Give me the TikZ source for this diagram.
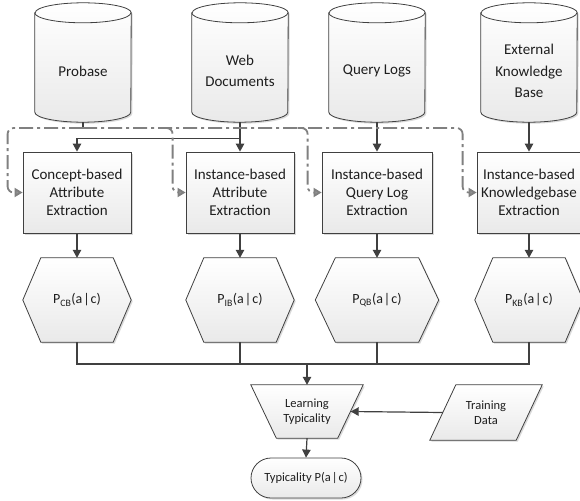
\documentclass[tikz,border=0pt]{standalone}
\usepackage{fontspec}
\setmainfont{Carlito}
\usetikzlibrary{arrows.meta,calc,shadows,shapes.misc,backgrounds}
\definecolor{lc}{HTML}{404040}
\definecolor{dc}{HTML}{808080}
\definecolor{tc}{HTML}{1E1E1E}
\newcommand\fs[2]{\fontsize{#1pt}{#2pt}\selectfont}
\tikzset{
  shp/.style={draw=lc, line width=0.8pt, top color=white, bottom color=gray!17,
    drop shadow={shadow xshift=1.5pt, shadow yshift=-1.5pt, fill=black, opacity=0.15}},
  cylnode/.style={minimum width=96pt, minimum height=102pt, inner sep=0pt, align=center,
    font=\fs{15}{21.5}, text=tc},
  procbox/.style={shp, rectangle, minimum height=81pt, inner sep=2pt, align=center,
    font=\fs{15}{18}, text=tc},
  hexnode/.style={minimum height=84pt, inner sep=0pt, align=center, font=\fs{14}{17}, text=tc},
  smallnode/.style={inner sep=0pt, align=center, font=\fs{12.5}{15.5}, text=tc},
  conn/.style={draw=lc, line width=1.2pt},
  arr/.style={conn, -{Triangle[length=8pt,width=8.5pt]}},
  dd/.style={draw=dc, line width=1.8pt, rounded corners=6pt,
    dash pattern=on 14pt off 4pt on 3pt off 4pt,
    -{Triangle[length=8pt,width=9pt,fill=dc!85]}},
}
\newcommand\cyldraw[1]{%
  \path[shp] ([yshift=7pt]#1.north west) -- ([yshift=10pt]#1.south west)
    arc[start angle=180, end angle=360, x radius=48pt, y radius=10pt]
    -- ([yshift=7pt]#1.north east)
    arc[start angle=0, end angle=180, x radius=48pt, y radius=10pt] -- cycle;
  \draw[draw=lc, line width=0.8pt] ([yshift=7pt]#1.north west)
    arc[start angle=180, end angle=360, x radius=48pt, y radius=10pt];}
\newcommand\hexdraw[2]{%
  \path[shp] (#1.west) -- ([xshift=#2]#1.north west) -- ([xshift=-#2]#1.north east)
    -- (#1.east) -- ([xshift=-#2]#1.south east) -- ([xshift=#2]#1.south west) -- cycle;}
\begin{document}
\begin{tikzpicture}[x=1pt, y=-1pt]
\useasboundingbox (0,0) rectangle (580,500);

% data sources
\node[cylnode] (pro) at (83,71) {Probase};
\node[cylnode] (wd)  at (240,71) {Web\\Documents};
\node[cylnode] (ql)  at (377,71) {Query Logs};
\node[cylnode] (ekb) at (529,71) {External\\Knowledge\\Base};

% extraction boxes
\node[procbox, minimum width=108pt] (c1) at (77,192.5) {Concept-based\\Attribute\\Extraction};
\node[procbox, minimum width=108pt] (c2) at (240,192.5) {Instance-based\\Attribute\\Extraction};
\node[procbox, minimum width=110pt] (c3) at (377,192.5) {Instance-based\\Query Log\\Extraction};
\node[procbox, minimum width=104pt] (c4) at (529,192.5) {Instance-based\\Knowledgebase\\Extraction};

% probability hexagons
\node[hexnode, minimum width=108pt] (h1) at (77,300) {P\textsubscript{CB}(a\kern1pt|\kern1pt c)};
\node[hexnode, minimum width=108pt] (h2) at (240,300) {P\textsubscript{IB}(a\kern1pt|\kern1pt c)};
\node[hexnode, minimum width=123pt] (h3) at (377,300) {P\textsubscript{QB}(a\kern1pt|\kern1pt c)};
\node[hexnode, minimum width=108pt] (h4) at (529,300) {P\textsubscript{KB}(a\kern1pt|\kern1pt c)};

% learning, training data, result
\node[smallnode, minimum width=112pt, minimum height=53pt] (lt) at (307,411.5) {Learning\\Typicality};
\node[smallnode, minimum width=112pt, minimum height=55pt] (td) at (486,412.5) {Training\\Data};
\node[rounded rectangle, shp, minimum width=110pt, minimum height=40pt, inner sep=0pt,
      font=\fs{12.5}{15}, text=tc] (ty) at (306,478) {Typicality P(a\kern1pt|\kern1pt c)};

\begin{pgfonlayer}{background}
  \cyldraw{pro}\cyldraw{wd}\cyldraw{ql}\cyldraw{ekb}
  \hexdraw{h1}{18pt}\hexdraw{h2}{18pt}\hexdraw{h3}{20pt}\hexdraw{h4}{18pt}
  \path[shp] (lt.north west) -- (lt.north east) -- ([xshift=-25.5pt]lt.south east)
    -- ([xshift=25.5pt]lt.south west) -- cycle;
  \path[shp] ([xshift=26pt]td.north west) -- (td.north east)
    -- ([xshift=-26pt]td.south east) -- (td.south west) -- cycle;
\end{pgfonlayer}

% solid connectors
\draw[arr] (wd.south) -- (c2.north);
\draw[arr] (wd.south) -- ++(0,16) -| (c1.north);
\draw[arr] (ql.south) -- (c3.north);
\draw[arr] (ekb.south) -- (c4.north);
\draw[arr] (c1.south) -- (h1.north);
\draw[arr] (c2.south) -- (h2.north);
\draw[arr] (c3.south) -- (h3.north);
\draw[arr] (c4.south) -- (h4.north);
\coordinate (m) at (307,364);
\draw[conn] (h1.south) |- (m);
\draw[conn] (h4.south) |- (m);
\draw[conn] (h2.south) |- (m);
\draw[conn] (h3.south) |- (m);
\draw[arr] (m) -- (lt.north);
\draw[arr] (lt.south) -- (ty.north);
\draw[arr] ([xshift=13pt]td.west) -- ([xshift=-12.5pt]lt.east);

% dash-dot concept connectors from Probase
\coordinate (bus) at (83,128);
\draw[conn] (pro.south) -- (bus);
\draw[dd] (bus) -| ([xshift=-15pt]c1.west) -- (c1.west);
\draw[dd] (bus) -| ([xshift=-14pt]c4.west) -- (c4.west);
\draw[dd] ($(c2.west |- bus)+(-24,0)$) -| ([xshift=-13pt]c2.west) -- (c2.west);
\draw[dd] ($(c3.west |- bus)+(-24,0)$) -| ([xshift=-14pt]c3.west) -- (c3.west);
\end{tikzpicture}
\end{document}
